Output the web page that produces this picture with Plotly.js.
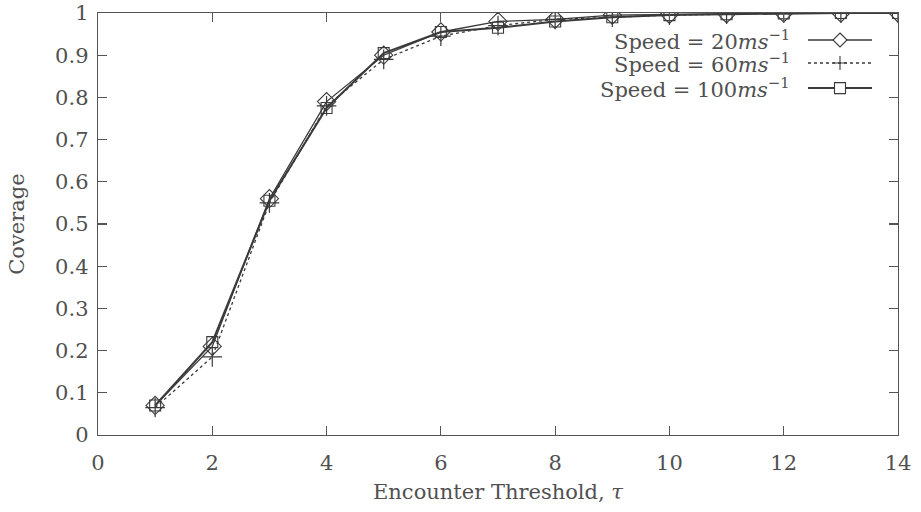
<!DOCTYPE html>
<html><head><meta charset="utf-8">
<script src="https://cdn.plot.ly/plotly-3.0.1.min.js"></script>
<style>body{margin:0;background:#fff}#c{width:921px;height:512px}</style>
</head><body><div id="c"></div>
<script>
const thresholds = [1,2,3,4,5,6,7,8,9,10,11,12,13,14];
const speed20  = [0.070,0.210,0.560,0.790,0.900,0.955,0.980,0.985,0.995,0.997,0.998,1.000,1.000,1.000];
const speed60  = [0.065,0.185,0.550,0.780,0.890,0.945,0.970,0.985,0.990,0.995,0.997,1.000,1.000,1.000];
const speed100 = [0.070,0.220,0.555,0.775,0.905,0.955,0.965,0.980,0.990,0.995,0.997,0.999,1.000,1.000];
const seriesNames = ['Speed = 20<i>ms</i><sup>−1</sup>','Speed = 60<i>ms</i><sup>−1</sup>','Speed = 100<i>ms</i><sup>−1</sup>'];
const xTicks = [0,2,4,6,8,10,12,14];
const yTicks = [0,0.1,0.2,0.3,0.4,0.5,0.6,0.7,0.8,0.9,1];

const lineCol = '#3a3a3a';
const txtCol = '#505050';
const font = {family:'"DejaVu Serif",serif', size:21, color:txtCol};

const traces = [
 {x:thresholds,y:speed20,mode:'lines+markers',line:{color:lineCol,width:1.3},
  marker:{symbol:'diamond-open',size:14,color:lineCol,line:{width:1.1}}},
 {x:thresholds,y:speed60,mode:'lines+markers',line:{color:lineCol,width:1.3,dash:'dot'},
  marker:{symbol:'cross-thin-open',size:14,color:lineCol,line:{width:1.2}}},
 {x:thresholds,y:speed100,mode:'lines+markers',line:{color:lineCol,width:2},
  marker:{symbol:'square-open',size:11,color:lineCol,line:{width:1.1}}}
];

const rowsY = [0.936,0.8815,0.822];
const annotations = seriesNames.map((n,i)=>({xref:'paper',yref:'paper',x:0.8675,y:rowsY[i],
  xanchor:'right',yanchor:'middle',text:n,showarrow:false,font:font}));
const shapes = [];
const dashes = ['solid','dot','solid'];
const widths = [1.3,1.3,2];
rowsY.forEach((yy,i)=>{
  shapes.push({type:'line',xref:'paper',yref:'paper',x0:0.8875,x1:0.9675,y0:yy,y1:yy,
    line:{color:lineCol,width:widths[i],dash:dashes[i]}});
});
const mk = {xref:'paper',yref:'paper',xsizemode:'pixel',ysizemode:'pixel',xanchor:0.9275,line:{color:lineCol,width:1.1},fillcolor:'white'};
shapes.push(Object.assign({},mk,{type:'path',yanchor:rowsY[0],path:'M0,7 L7,0 L0,-7 L-7,0 Z'}));
shapes.push({xref:'paper',yref:'paper',xsizemode:'pixel',ysizemode:'pixel',xanchor:0.9275,yanchor:rowsY[1],
  type:'path',path:'M-7,0 L7,0 M0,-7 L0,7',line:{color:lineCol,width:1.1}});
shapes.push(Object.assign({},mk,{type:'rect',yanchor:rowsY[2],x0:-5.5,x1:5.5,y0:-5.5,y1:5.5}));

const axisCommon = {showgrid:false,zeroline:false,showline:true,linecolor:'#555',linewidth:1.3,
  mirror:'ticks',ticks:'inside',ticklen:9,tickwidth:1.2,tickcolor:'#555',tickfont:font};

const layout = {
  width:921,height:512,margin:{l:98,r:23,t:13,b:77},
  paper_bgcolor:'white',plot_bgcolor:'white',showlegend:false,font:font,
  xaxis:Object.assign({},axisCommon,{range:[0,14],tickvals:xTicks,ticktext:xTicks.map(String),
    ticklabelstandoff:8,
    title:{text:'Encounter Threshold, <i>τ</i>',font:font,standoff:10}}),
  yaxis:Object.assign({},axisCommon,{range:[0,1],tickvals:yTicks,ticktext:yTicks.map(v=>String(v)),
    ticklabelstandoff:4,
    title:{text:'Coverage',font:font,standoff:24}}),
  annotations:annotations,shapes:shapes
};
Plotly.newPlot('c',traces,layout,{staticPlot:true});
</script></body></html>
